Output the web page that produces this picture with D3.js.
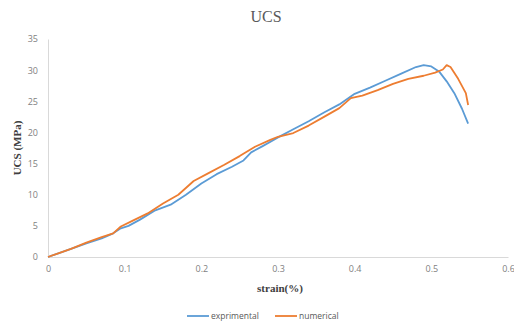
<!DOCTYPE html>
<html>
<head>
<meta charset="utf-8">
<script src="https://d3js.org/d3.v7.min.js"></script>
<style>
  body { margin: 0; background: #fff; }
  svg { display: block; }
</style>
</head>
<body>
<div id="chart"></div>
<script>
// experimental curve: strain (%) and stress (MPa)
const expStrain = [0, 0.03, 0.05, 0.07, 0.085, 0.095, 0.105, 0.12, 0.14, 0.16, 0.18, 0.2, 0.22, 0.24, 0.255, 0.265, 0.28, 0.3, 0.32, 0.34, 0.36, 0.38, 0.4, 0.42, 0.44, 0.46, 0.48, 0.49, 0.5, 0.51, 0.52, 0.53, 0.54, 0.548]
const expStress = [0, 1.3, 2.2, 3.0, 3.8, 4.6, 5.0, 6.0, 7.5, 8.4, 10.0, 11.8, 13.3, 14.5, 15.5, 16.8, 17.8, 19.2, 20.5, 21.8, 23.2, 24.5, 26.2, 27.2, 28.3, 29.4, 30.5, 30.8, 30.6, 29.8, 28.2, 26.3, 23.8, 21.4]

// numerical curve
const numStrain = [0, 0.03, 0.05, 0.07, 0.085, 0.095, 0.11, 0.13, 0.15, 0.17, 0.19, 0.21, 0.23, 0.25, 0.27, 0.29, 0.3, 0.32, 0.34, 0.36, 0.38, 0.395, 0.41, 0.43, 0.45, 0.47, 0.49, 0.505, 0.515, 0.52, 0.525, 0.535, 0.545, 0.548]
const numStress = [0, 1.3, 2.3, 3.2, 3.8, 4.9, 5.8, 7.0, 8.6, 10.0, 12.2, 13.5, 14.8, 16.2, 17.7, 18.8, 19.3, 19.9, 21.1, 22.5, 23.9, 25.5, 25.9, 26.8, 27.8, 28.6, 29.1, 29.6, 30.1, 30.8, 30.5, 28.6, 26.3, 24.4]

const xTicks = [0, 0.1, 0.2, 0.3, 0.4, 0.5, 0.6]
const yTicks = [0, 5, 10, 15, 20, 25, 30, 35]

const width = 514
const height = 325
const margin = { left: 48, right: 6, top: 39, bottom: 68 }

const svg = d3.select("#chart")
  .append("svg")
    .attr("width", width)
    .attr("height", height)

const x = d3.scaleLinear().domain([0, 0.6]).range([margin.left, width - margin.right])
const y = d3.scaleLinear().domain([0, 35]).range([height - margin.bottom, margin.top])

// title
svg.append("text")
  .attr("x", 266).attr("y", 22)
  .attr("text-anchor", "middle")
  .style("font-family", "Liberation Serif, serif")
  .style("font-size", "16px")
  .style("fill", "#595959")
  .text("UCS")

// axes
const xAxis = svg.append("g")
  .attr("transform", `translate(0,${y(0)})`)
  .call(d3.axisBottom(x).tickValues(xTicks).tickSize(0).tickPadding(9).tickFormat(d => d === 0 ? "0" : d3.format(".1f")(d)))
const yAxis = svg.append("g")
  .attr("transform", `translate(${x(0)},0)`)
  .call(d3.axisLeft(y).tickValues(yTicks).tickSize(0).tickPadding(10))

for (const a of [xAxis, yAxis]) {
  a.select(".domain").attr("stroke", "#d9d9d9")
  a.selectAll("text")
    .style("font-family", "Open Sans, sans-serif")
    .style("font-size", "9px")
    .style("fill", "#7f7f7f")
}

// axis titles
svg.append("text")
  .attr("x", 280).attr("y", 292)
  .attr("text-anchor", "middle")
  .style("font-family", "Liberation Serif, serif")
  .style("font-weight", "bold")
  .style("font-size", "11px")
  .style("fill", "#404040")
  .text("strain(%)")

svg.append("text")
  .attr("transform", `translate(21,${(y(0) + y(35)) / 2}) rotate(-90)`)
  .attr("text-anchor", "middle")
  .style("font-family", "Liberation Serif, serif")
  .style("font-weight", "bold")
  .style("font-size", "11px")
  .style("fill", "#404040")
  .text("UCS (MPa)")

// curves
const line = d3.line().x(d => x(d[0])).y(d => y(d[1]))
const series = [
  { name: "exprimental", color: "#5b9bd5", pts: d3.zip(expStrain, expStress) },
  { name: "numerical", color: "#ed7d31", pts: d3.zip(numStrain, numStress) }
]

svg.append("g")
  .selectAll("path")
  .data(series)
  .join("path")
    .attr("d", d => line(d.pts))
    .attr("fill", "none")
    .attr("stroke", d => d.color)
    .attr("stroke-width", 1.8)
    .attr("stroke-linejoin", "round")

// legend
const legend = svg.append("g")
  .selectAll("g")
  .data(series)
  .join("g")
    .attr("transform", (d, i) => `translate(${187 + i * 88},316)`)

legend.append("line")
  .attr("x1", 0).attr("x2", 22)
  .attr("stroke", d => d.color)
  .attr("stroke-width", 1.8)

legend.append("text")
  .attr("x", 24).attr("y", 3)
  .style("font-family", "Open Sans, sans-serif")
  .style("font-size", "8.5px")
  .style("fill", "#595959")
  .text(d => d.name)
</script>
</body>
</html>
